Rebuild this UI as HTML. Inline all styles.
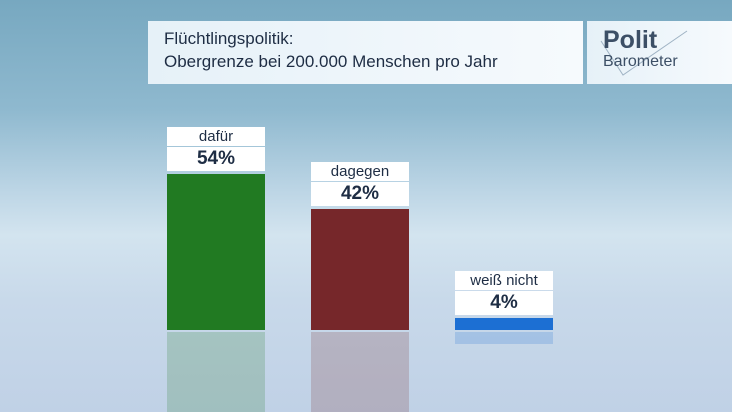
<!DOCTYPE html>
<html><head><meta charset="utf-8"><style>
body{margin:0;width:732px;height:412px;overflow:hidden;font-family:"Liberation Sans","DejaVu Sans",sans-serif;}
#bg{position:absolute;left:0;top:0;width:732px;height:412px;background:linear-gradient(#77a8c0 0px,#8fb9cf 110px,#bcd5e5 190px,#d3e4ef 235px,#c8d9ea 300px,#c0d1e6 412px);}
.hdr{position:absolute;top:21px;height:63px;background:linear-gradient(90deg,#e6f1f8,#f6fafd);}
.t{position:absolute;left:16px;font-size:17px;color:#1e2d44;}
.lbl{position:absolute;background:#fff;text-align:center;color:#1e2d44;}
</style></head><body>
<div id="bg"></div>
<div class="hdr" style="left:148px;width:435px">
 <div class="t" style="top:8px">Flüchtlingspolitik:</div>
 <div class="t" style="top:31px">Obergrenze bei 200.000 Menschen pro Jahr</div>
</div>
<div class="hdr" style="left:587px;width:145px">
 <svg width="145" height="63" style="position:absolute;left:0;top:0"><polyline points="14,20 36,54 100,10" fill="none" stroke="#9fb3c4" stroke-width="1"/></svg>
 <div style="position:absolute;left:16px;top:5px;font-size:25px;font-weight:bold;color:#3c4f66">Polit</div>
 <div style="position:absolute;left:16px;top:32px;font-size:16px;color:#3c4f66">Barometer</div>
</div>
<div id="chart"></div>
<script>
const categories=["dafür","dagegen","weiß nicht"];
const values=[54,42,4];
const colors=["#217a22","#76272a","#1c6fd3"];
const base=330, scale=2.88, x0=167, step=144, bw=98;
const y=v=>base-v*scale;
const chart=document.getElementById('chart');
categories.forEach((c,i)=>{
 const x=x0+i*step, top=y(values[i]);
 const b=document.createElement('div');
 b.style.cssText=`position:absolute;left:${x}px;top:${top}px;width:${bw}px;height:${base-top}px;background:${colors[i]}`;
 
 
 chart.appendChild(b);
 const r=document.createElement('div');
 r.style.cssText=`position:absolute;left:${x}px;top:${base+2}px;width:${bw}px;height:${Math.min(base-top,80)}px;background:${colors[i]};opacity:0.2`;
 
 
 chart.appendChild(r);
 const v=document.createElement('div');
 v.className='lbl';
 v.style.cssText=`left:${x}px;top:${top-27}px;width:${bw}px;height:24px;line-height:24px;font-size:19px;font-weight:bold`;
 v.textContent=values[i]+'%';
 
 
 chart.appendChild(v);
 const n=document.createElement('div');
 n.className='lbl';
 n.style.cssText=`left:${x}px;top:${top-47}px;width:${bw}px;height:19px;line-height:19px;font-size:15px`;
 n.textContent=c;
 
 
 chart.appendChild(n);
});
</script>
</body></html>
